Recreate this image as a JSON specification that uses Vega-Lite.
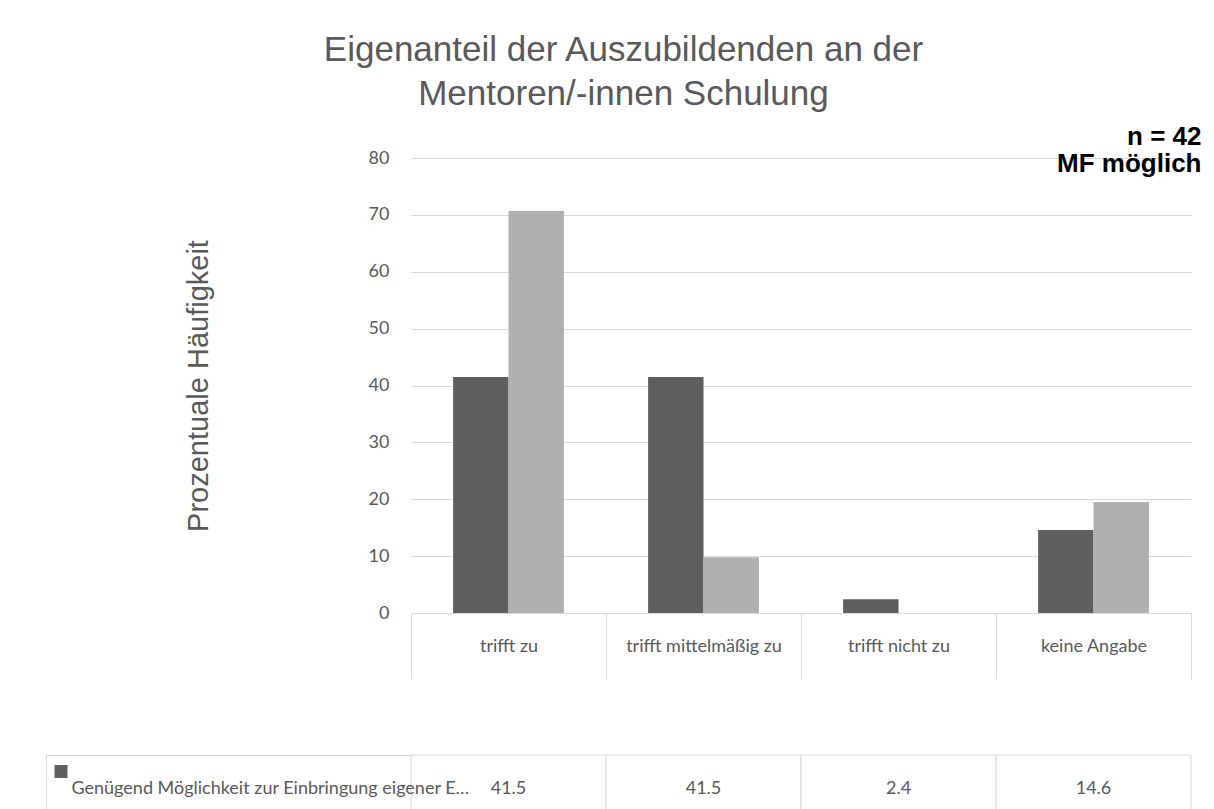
{
  "$schema": "https://vega.github.io/schema/vega-lite/v6.json",
  "padding": {"left": 45, "top": 33, "right": 10, "bottom": 5},
  "background": "white",
  "title": {
    "text": ["Eigenanteil der Auszubildenden an der", "Mentoren/-innen Schulung"],
    "font": "Liberation Sans",
    "fontSize": 35,
    "fontWeight": "normal",
    "color": "#595959",
    "anchor": "middle",
    "lineHeight": 44,
    "offset": 12
  },
  "datasets": {
    "d": [
      {"category": "trifft zu", "series": "Genügend Möglichkeit zur Einbringung eigener Erfahrungen", "value": 41.5},
      {"category": "trifft zu", "series": "Genügend Möglichkeit zur Einbringung eigener Ideen", "value": 70.7},
      {"category": "trifft mittelmäßig zu", "series": "Genügend Möglichkeit zur Einbringung eigener Erfahrungen", "value": 41.5},
      {"category": "trifft mittelmäßig zu", "series": "Genügend Möglichkeit zur Einbringung eigener Ideen", "value": 9.8},
      {"category": "trifft nicht zu", "series": "Genügend Möglichkeit zur Einbringung eigener Erfahrungen", "value": 2.4},
      {"category": "trifft nicht zu", "series": "Genügend Möglichkeit zur Einbringung eigener Ideen", "value": 0},
      {"category": "keine Angabe", "series": "Genügend Möglichkeit zur Einbringung eigener Erfahrungen", "value": 14.6},
      {"category": "keine Angabe", "series": "Genügend Möglichkeit zur Einbringung eigener Ideen", "value": 19.5}
    ]
  },
  "spacing": 66,
  "vconcat": [
    {
      "width": 780,
      "height": 455,
      "data": {"name": "d"},
      "title": {
        "text": ["n = 42", "MF möglich"],
        "anchor": "end",
        "align": "right",
        "font": "Liberation Sans",
        "fontSize": 26,
        "fontWeight": "bold",
        "color": "black",
        "lineHeight": 27,
        "offset": -28,
        "dx": 10
      },
      "mark": {"type": "bar"},
      "encoding": {
        "x": {
          "field": "category",
          "type": "nominal",
          "sort": ["trifft zu", "trifft mittelmäßig zu", "trifft nicht zu", "keine Angabe"],
          "scale": {"paddingInner": 0, "paddingOuter": 0},
          "axis": {
            "title": null,
            "orient": "bottom",
            "domain": true,
            "domainColor": "#d9d9d9",
            "ticks": true,
            "tickBand": "extent",
            "tickSize": 66,
            "tickColor": "#d9d9d9",
            "labelAngle": 0,
            "labelBaseline": "middle",
            "labelPadding": -33,
            "labelFont": "Lato",
            "labelFontSize": 18,
            "labelColor": "#595959",
            "labelLimit": 300
          }
        },
        "xOffset": {
          "field": "series",
          "type": "nominal",
          "sort": ["Genügend Möglichkeit zur Einbringung eigener Erfahrungen", "Genügend Möglichkeit zur Einbringung eigener Ideen"],
          "scale": {"paddingInner": 0, "paddingOuter": 0.76}
        },
        "y": {
          "field": "value",
          "type": "quantitative",
          "scale": {"domain": [0, 80], "nice": false},
          "axis": {
            "title": "Prozentuale Häufigkeit",
            "titleFont": "Liberation Sans",
            "titleFontSize": 29,
            "titleFontWeight": "normal",
            "titleColor": "#595959",
            "titlePadding": 155,
            "values": [0, 10, 20, 30, 40, 50, 60, 70, 80],
            "domain": false,
            "ticks": false,
            "grid": true,
            "gridColor": "#d9d9d9",
            "gridWidth": 1,
            "labelPadding": 22,
            "labelFont": "Lato",
            "labelFontSize": 18,
            "labelColor": "#595959"
          }
        },
        "color": {
          "field": "series",
          "type": "nominal",
          "sort": ["Genügend Möglichkeit zur Einbringung eigener Erfahrungen", "Genügend Möglichkeit zur Einbringung eigener Ideen"],
          "scale": {"range": ["#5f5f5f", "#b0b0b0"]},
          "legend": null
        }
      }
    },
    {
      "width": 780,
      "height": 135,
      "data": {"name": "d"},
      "encoding": {
        "x": {
          "field": "category",
          "type": "nominal",
          "sort": ["trifft zu", "trifft mittelmäßig zu", "trifft nicht zu", "keine Angabe"],
          "scale": {"paddingInner": 0, "paddingOuter": 0},
          "axis": null
        }
      },
      "layer": [
        {
          "mark": {"type": "rect", "fill": "white", "stroke": "#d9d9d9", "strokeWidth": 1},
          "encoding": {
            "y": {
              "field": "series",
              "type": "nominal",
              "sort": ["Genügend Möglichkeit zur Einbringung eigener Erfahrungen", "Genügend Möglichkeit zur Einbringung eigener Ideen"],
              "scale": {"paddingInner": 0, "paddingOuter": 0},
              "axis": {
                "orient": "left",
                "title": null,
                "grid": false,
                "domain": false,
                "ticks": true,
                "tickBand": "extent",
                "tickSize": 365,
                "tickColor": "#d9d9d9",
                "labelAlign": "left",
                "labelBaseline": "middle",
                "labelPadding": -25,
                "labelFont": "Lato",
                "labelFontSize": 18,
                "labelColor": "#595959",
                "labelLimit": 400
              }
            }
          }
        },
        {
          "mark": {"type": "text", "font": "Lato", "fontSize": 18, "color": "#595959", "align": "center", "baseline": "middle"},
          "encoding": {
            "y": {
              "field": "series",
              "type": "nominal",
              "sort": ["Genügend Möglichkeit zur Einbringung eigener Erfahrungen", "Genügend Möglichkeit zur Einbringung eigener Ideen"],
              "scale": {"paddingInner": 0, "paddingOuter": 0},
              "axis": {
                "orient": "left",
                "offset": 344,
                "title": null,
                "grid": false,
                "domain": false,
                "labels": false,
                "ticks": true,
                "tickBand": "center",
                "tickSize": 13,
                "tickWidth": 13,
                "tickOffset": -18,
                "tickColor": {"condition": {"test": "indexof(datum.value, 'Erfahrungen') >= 0", "value": "#5f5f5f"}, "value": "#b0b0b0"}
              }
            },
            "text": {"field": "value", "type": "quantitative", "format": ".1~f"}
          }
        },
        {
          "mark": {"type": "rect", "fill": "transparent", "strokeOpacity": 0},
          "encoding": {
            "y": {
              "field": "series",
              "type": "nominal",
              "sort": ["Genügend Möglichkeit zur Einbringung eigener Erfahrungen", "Genügend Möglichkeit zur Einbringung eigener Ideen"],
              "scale": {"paddingInner": 0, "paddingOuter": 0},
              "axis": {
                "orient": "left",
                "offset": 365,
                "title": null,
                "grid": false,
                "domain": true,
                "domainColor": "#d9d9d9",
                "labels": false,
                "ticks": false
              }
            }
          }
        }
      ],
      "resolve": {"axis": {"y": "independent"}}
    }
  ],
  "config": {
    "view": {"stroke": null}
  }
}
